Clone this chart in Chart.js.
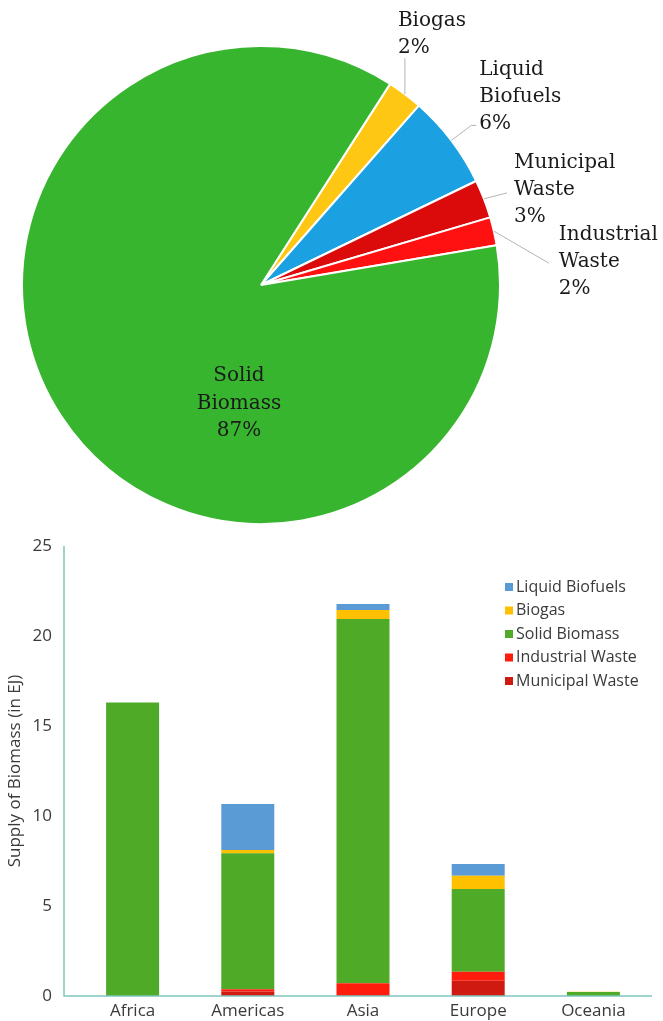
<!DOCTYPE html>
<html>
<head>
<meta charset="utf-8">
<script src="https://cdn.jsdelivr.net/npm/chart.js@4.4.1/dist/chart.umd.min.js"></script>
<style>
  html, body { margin: 0; padding: 0; background: #fff; }
  canvas { display: block; }
</style>
</head>
<body>
<canvas id="pieChart" width="663" height="530"></canvas>
<canvas id="barChart" width="663" height="491"></canvas>
<script>
// Pie: share of bioenergy supply by source (%)
const pieNames = ['Biogas', 'Liquid Biofuels', 'Municipal Waste', 'Industrial Waste', 'Solid Biomass'];
const pieShares = [2.4, 6.35, 2.6, 1.9, 86.75];
const pieLabelLines = [
    ['Biogas', '2%'],
    ['Liquid', 'Biofuels', '6%'],
    ['Municipal', 'Waste', '3%'],
    ['Industrial', 'Waste', '2%'],
    ['Solid', 'Biomass', '87%']
];
const pieColors = ['#fec713', '#1ba1e2', '#dc0b0b', '#ff1111', '#38b52f'];

// Bars: supply of biomass by region (EJ)
const regions = ['Africa', 'Americas', 'Asia', 'Europe', 'Oceania'];
const municipalWaste = [0, 0.25, 0, 0.85, 0];
const industrialWaste = [0, 0.12, 0.71, 0.5, 0];
const solidBiomass = [16.3, 7.56, 20.23, 4.59, 0.22];
const biogas = [0, 0.18, 0.5, 0.74, 0.02];
const liquidBiofuels = [0, 2.56, 0.34, 0.65, 0];
const yTicks = [0, 5, 10, 15, 20, 25];

const SERIF = '"DejaVu Serif", serif';
const SANS = '"Open Sans", "Liberation Sans", sans-serif';
const TEXT = '#3a3a3a';

// where each pie label sits, relative to the slice's outer edge midpoint
// (the solid biomass label sits inside, relative to the pie centre)
const pieLabelPlacement = [
    { leader: [[0, -36]], text: [-7, -73] },
    { leader: [[20, -15], [25, -15]], text: [28, -71] },
    { leader: [[23, -6]], text: [30, -36] },
    { leader: [[55, 32]], text: [65, 4] },
    { inside: [-22, 91] }
];

const pieLabelsPlugin = {
    id: 'pieLabels',
    afterDatasetsDraw(chart) {
        const ctx = chart.ctx;
        const meta = chart.getDatasetMeta(0);
        ctx.save();
        ctx.font = '20px ' + SERIF;
        ctx.fillStyle = '#1a1a1a';
        ctx.textBaseline = 'middle';
        meta.data.forEach((arc, i) => {
            const { x, y, startAngle, endAngle, outerRadius } = arc.getProps(['x', 'y', 'startAngle', 'endAngle', 'outerRadius'], true);
            const place = pieLabelPlacement[i];
            const lines = pieLabelLines[i];
            if (place.inside) {
                ctx.textAlign = 'center';
                lines.forEach((t, k) => ctx.fillText(t, x + place.inside[0], y + place.inside[1] + k * 27.5));
                return;
            }
            const mid = (startAngle + endAngle) / 2;
            const ex = x + Math.cos(mid) * outerRadius;
            const ey = y + Math.sin(mid) * outerRadius;
            ctx.strokeStyle = '#b4b4b4';
            ctx.lineWidth = 1;
            ctx.beginPath();
            ctx.moveTo(ex, ey);
            place.leader.forEach(p => ctx.lineTo(ex + p[0], ey + p[1]));
            ctx.stroke();
            ctx.textAlign = 'left';
            lines.forEach((t, k) => ctx.fillText(t, ex + place.text[0], ey + place.text[1] + k * 27));
        });
        ctx.restore();
    }
};

new Chart(document.getElementById('pieChart'), {
    type: 'pie',
    data: {
        labels: pieNames,
        datasets: [{
            data: pieShares,
            backgroundColor: pieColors,
            borderColor: '#ffffff',
            borderWidth: 2
        }]
    },
    options: {
        responsive: false,
        animation: false,
        rotation: 32.7,
        layout: { padding: { left: 21, top: 45, right: 162, bottom: 5 } },
        plugins: { legend: { display: false }, tooltip: { enabled: false } }
    },
    plugins: [pieLabelsPlugin]
});

// axis lines sit a little left of the first category, plus the boxed legend inside the plot
const axisAndLegendPlugin = {
    id: 'axisAndLegend',
    afterDraw(chart) {
        const ctx = chart.ctx;
        const area = chart.chartArea;
        const yScale = chart.scales.y;
        const axisX = area.left - 11;
        const y0 = yScale.getPixelForValue(0);
        const yTop = yScale.getPixelForValue(yTicks[yTicks.length - 1]);
        ctx.save();
        ctx.strokeStyle = '#7fc6bd';
        ctx.lineWidth = 1.5;
        ctx.beginPath();
        ctx.moveTo(axisX, yTop);
        ctx.lineTo(axisX, y0);
        ctx.lineTo(area.right + 1, y0);
        ctx.stroke();

        // legend, top series first
        const items = chart.data.datasets.slice().reverse();
        const lx = area.right - 146;
        let ly = area.top + 41;
        ctx.font = '16px ' + SANS;
        ctx.textBaseline = 'middle';
        ctx.textAlign = 'left';
        items.forEach(ds => {
            ctx.fillStyle = ds.backgroundColor;
            ctx.fillRect(lx, ly - 4, 8, 8);
            ctx.fillStyle = TEXT;
            ctx.fillText(ds.label, lx + 11, ly);
            ly += 23.5;
        });
        ctx.restore();
    }
};

new Chart(document.getElementById('barChart'), {
    type: 'bar',
    data: {
        labels: regions,
        datasets: [
            { label: 'Municipal Waste', data: municipalWaste, backgroundColor: '#cf1a11' },
            { label: 'Industrial Waste', data: industrialWaste, backgroundColor: '#ff1c0c' },
            { label: 'Solid Biomass', data: solidBiomass, backgroundColor: '#4eaa27' },
            { label: 'Biogas', data: biogas, backgroundColor: '#ffc000' },
            { label: 'Liquid Biofuels', data: liquidBiofuels, backgroundColor: '#5b9bd5' }
        ]
    },
    options: {
        responsive: false,
        animation: false,
        layout: { padding: { top: 16, right: 12, left: 0, bottom: 0 } },
        datasets: { bar: { categoryPercentage: 1, barPercentage: 0.46 } },
        scales: {
            x: {
                stacked: true,
                grid: { display: false, drawTicks: false },
                border: { display: false },
                ticks: { color: TEXT, font: { family: SANS, size: 17 }, padding: 5 },
                afterFit: s => {
                    s.height = 25;
                    s.paddingLeft = 0; s.paddingRight = 0; s.paddingTop = 0; s.paddingBottom = 0;
                }
            },
            y: {
                stacked: true,
                min: 0,
                max: 25,
                grid: { display: false, drawTicks: false },
                border: { display: false },
                afterBuildTicks: s => { s.ticks = yTicks.map(v => ({ value: v })); },
                ticks: { color: TEXT, font: { family: SANS, size: 17 }, padding: 23 },
                title: {
                    display: true,
                    text: 'Supply of Biomass (in EJ)',
                    color: TEXT,
                    font: { family: SANS, size: 17 },
                    padding: { top: 5, bottom: 0 }
                },
                afterFit: s => {
                    s.width = 75;
                    s.paddingLeft = 0; s.paddingRight = 0; s.paddingTop = 0; s.paddingBottom = 0;
                }
            }
        },
        plugins: { legend: { display: false }, tooltip: { enabled: false } }
    },
    plugins: [axisAndLegendPlugin]
});
</script>
</body>
</html>
